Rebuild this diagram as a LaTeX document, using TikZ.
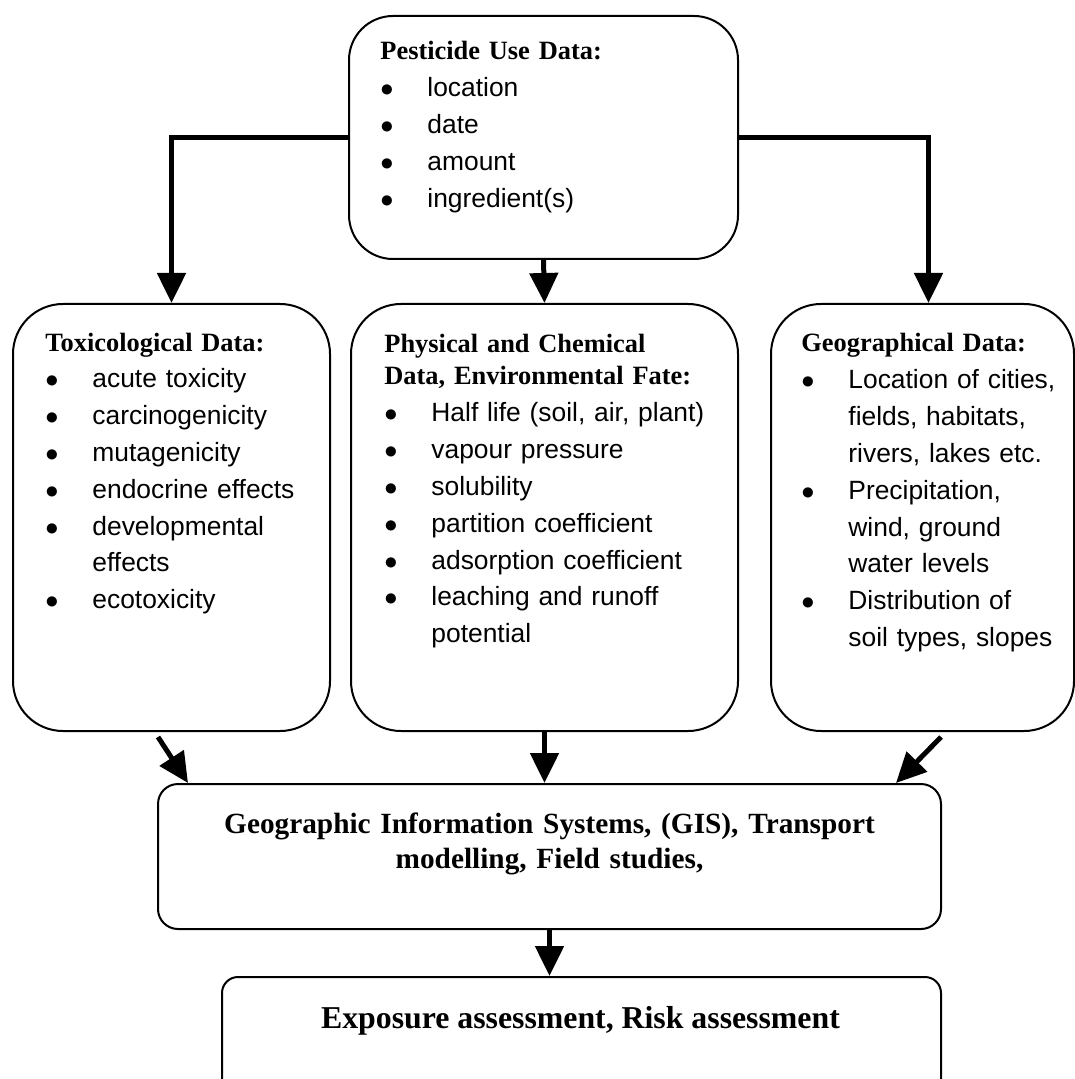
\documentclass[tikz,border=0pt]{standalone}
\usepackage{fix-cm}
\usepackage{fontspec}
\setmainfont{Liberation Serif}
\setsansfont{Liberation Sans}
\usetikzlibrary{arrows.meta}

\newcommand{\boxhead}[1]{{\rmfamily\bfseries #1}\par}
\newcommand{\bitem}[1]{\par\noindent\makebox[23.5pt][l]{$\bullet$}#1}
\newcommand{\bmore}[1]{\par\noindent\hspace*{23.5pt}#1}

\begin{document}
\begin{tikzpicture}[x=0.5pt,y=-0.5pt,>={Triangle[width=14pt,length=15pt]},
    every node/.style={inner sep=0pt},
    databox/.style={draw,line width=1pt,rounded corners=25pt,anchor=north west},
    datatext/.style={anchor=base west,align=left,
        font=\sffamily\fontsize{13.2pt}{18.4pt}\selectfont},
    flow/.style={->,line width=2.5pt}]
    \useasboundingbox (0,0) rectangle (1074,1079);

    % Boxes.
    \node[databox,rounded corners=22pt,minimum width=194.5pt,
        minimum height=121.5pt] (use-box) at (348,15) {};
    \node[databox,minimum width=158.5pt,minimum height=213.5pt]
        (tox-box) at (12,303) {};
    \node[databox,minimum width=193.5pt,minimum height=213.5pt]
        (chem-box) at (350,303) {};
    \node[databox,minimum width=151.5pt,minimum height=213.5pt]
        (geo-box) at (770,303) {};
    \node[databox,rounded corners=10pt,minimum width=391.5pt,
        minimum height=72.5pt] (gis-box) at (157,783) {};
    \node[databox,rounded corners=8pt,minimum width=359.5pt,
        minimum height=60pt] (risk-box) at (221,976) {};

    % Texts.
    \node[datatext,text width=120pt] (use-text) at (380,60)
        {\boxhead{Pesticide Use Data:}
         \bitem{location}
         \bitem{date}
         \bitem{amount}
         \bitem{ingredient(s)}};
    \node[datatext,text width=150pt] (tox-text) at (45,351)
        {\boxhead{Toxicological Data:}
         \bitem{acute toxicity}
         \bitem{carcinogenicity}
         \bitem{mutagenicity}
         \bitem{endocrine effects}
         \bitem{developmental}
         \bmore{effects}
         \bitem{ecotoxicity}};
    \node[datatext,text width=175pt] (chem-text) at (384,353)
        {\boxhead{Physical and Chemical}\vspace{-2.4pt}
         \boxhead{Data, Environmental Fate:}
         \bitem{Half life (soil, air, plant)}
         \bitem{vapour pressure}
         \bitem{solubility}
         \bitem{partition coefficient}
         \bitem{adsorption coefficient}
         \bitem{leaching and runoff}
         \bmore{potential}};
    \node[datatext,text width=140pt] (geo-text) at (801,352)
        {\boxhead{Geographical Data:}
         \bitem{Location of cities,}
         \bmore{fields, habitats,}
         \bmore{rivers, lakes etc.}
         \bitem{Precipitation,}
         \bmore{wind, ground}
         \bmore{water levels}
         \bitem{Distribution of}
         \bmore{soil types, slopes}};
    \node[anchor=base,align=center,text width=340pt,
        font=\rmfamily\bfseries\fontsize{14.65pt}{17.5pt}\selectfont]
        (gis-text) at (549.5,833)
        {Geographic Information Systems, (GIS), Transport\\
         modelling, Field studies,};
    \node[anchor=base,font=\rmfamily\bfseries\fontsize{15.9pt}{19pt}\selectfont]
        (risk-text) at (580.5,1028) {Exposure assessment, Risk assessment};

    % Arrows.
    \draw[flow] (use-box.west) -| (tox-box.north);
    \draw[flow] (use-box.east) -| ([xshift=3pt]geo-box.north);
    \draw[flow] (use-box.south) -- (chem-box.north);
    \draw[flow] ([xshift=-6.75pt,yshift=-2.5pt]tox-box.south)
        -- ([xshift=15.5pt]gis-box.north west);
    \draw[flow] (chem-box.south) -- (chem-box.south |- gis-box.north);
    \draw[flow] ([xshift=9.25pt,yshift=-2.5pt]geo-box.south)
        -- ([xshift=-23pt]gis-box.north east);
    \draw[flow] (gis-box.south) -- (gis-box.south |- risk-box.north);
\end{tikzpicture}
\end{document}
